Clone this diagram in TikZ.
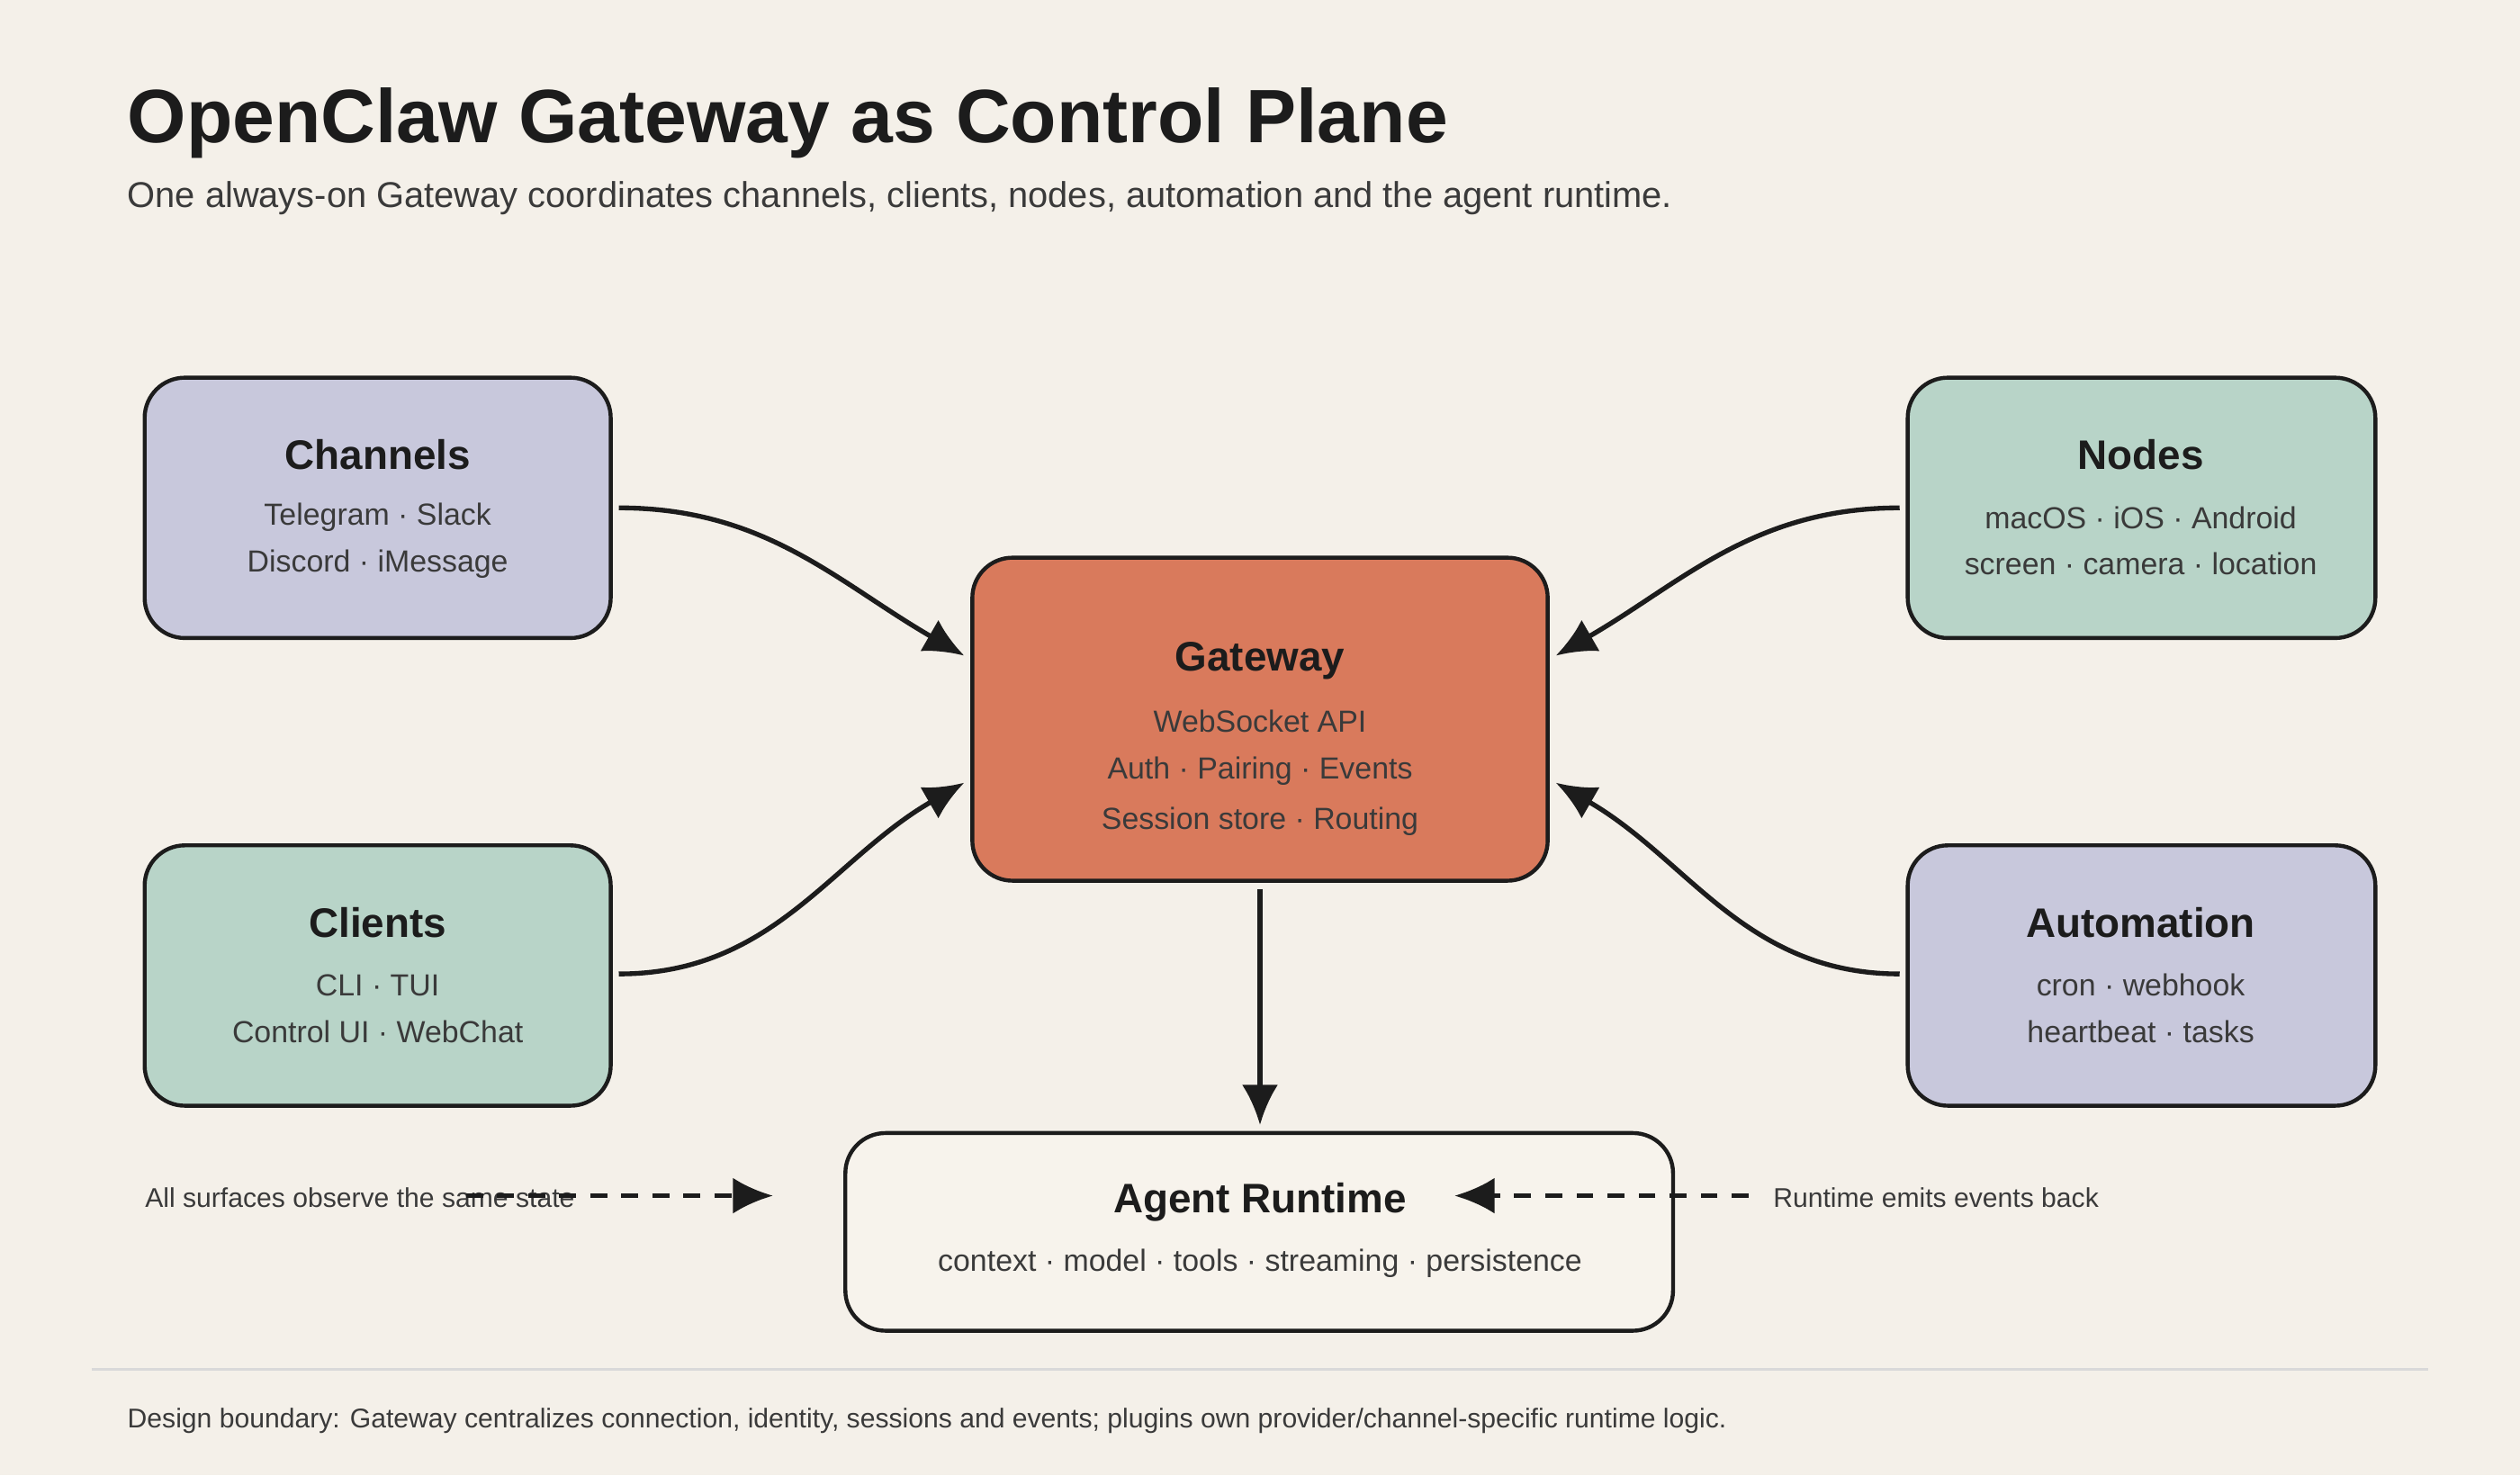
\documentclass[tikz,border=0pt]{standalone}
\usepackage{fontspec}
\setmainfont{Liberation Sans}
\usetikzlibrary{arrows.meta}
\definecolor{bg}{HTML}{F4F0E9}
\definecolor{lav}{HTML}{C8C8DC}
\definecolor{mint}{HTML}{B8D4C8}
\definecolor{coral}{HTML}{D97A5C}
\definecolor{rt}{HTML}{F7F3EC}
\definecolor{ink}{HTML}{1C1C1C}
\definecolor{txt}{HTML}{3A3A3A}
\begin{document}
\begin{tikzpicture}[x=0.02cm,y=-0.02cm,
 box/.style={draw=ink,line width=1.4pt,rounded corners=0.5cm},
 ttl/.style={font=\fontsize{14.6}{16}\selectfont\bfseries,text=ink},
 body/.style={font=\fontsize{10.8}{12}\selectfont,text=txt},
 note/.style={anchor=west,inner sep=0pt,font=\fontsize{9.6}{11}\selectfont,text=txt},
 conn/.style={draw=ink,line width=1.7pt,-{Latex[length=0.5cm,width=0.45cm]}},
 dconn/.style={conn,dash pattern=on 6pt off 5pt}]
\fill[bg] (0,0) rectangle (1568,918);
\node[anchor=base west,inner sep=0pt,font=\fontsize{26.8}{30}\selectfont\bfseries,text=ink] (title) at (79,89) {OpenClaw Gateway as Control Plane};
\node[anchor=base west,inner sep=0pt,font=\fontsize{12.7}{14}\selectfont,text=txt] (sub) at (79,129) {One always-on Gateway coordinates channels, clients, nodes, automation and the agent runtime.};
% boxes
\draw[box,fill=lav] (90,235) rectangle (380,397);
\draw[box,fill=mint] (90,526) rectangle (380,688);
\draw[box,fill=mint] (1187,235) rectangle (1478,397);
\draw[box,fill=lav] (1187,526) rectangle (1478,688);
\draw[box,fill=coral] (605,347) rectangle (963,548);
\draw[box,fill=rt] (526,705) rectangle (1041,828);
% texts
\node[ttl] (chT) at (235,283) {Channels};
\node[body] (ch1) at (235,322) {Telegram · Slack};
\node[body] (ch2) at (235,351) {Discord · iMessage};
\node[ttl] (clT) at (235,574) {Clients};
\node[body] (cl1) at (235,613) {CLI · TUI};
\node[body] (cl2) at (235,642) {Control UI · WebChat};
\node[ttl] (noT) at (1332,283) {Nodes};
\node[body] (no1) at (1332,322) {macOS · iOS · Android};
\node[body] (no2) at (1332,351) {screen · camera · location};
\node[ttl] (auT) at (1332,574) {Automation};
\node[body] (au1) at (1332,613) {cron · webhook};
\node[body] (au2) at (1332,642) {heartbeat · tasks};
\node[ttl] (gwT) at (784,411) {Gateway};
\node[body] (gw1) at (784,449) {WebSocket API};
\node[body] (gw2) at (784,480) {Auth · Pairing · Events};
\node[body] (gw3) at (784,511) {Session store · Routing};
\node[ttl] (rtT) at (784,748) {Agent Runtime};
\node[body] (rt1) at (784,786) {context · model · tools · streaming · persistence};
% connector anchors
\coordinate (chO) at (385,316); \coordinate (gwA) at (600,408);
\coordinate (clO) at (385,606); \coordinate (gwB) at (600,487);
\coordinate (noO) at (1182,316); \coordinate (gwC) at (968,408);
\coordinate (auO) at (1182,606); \coordinate (gwD) at (968,487);
\coordinate (gwS) at (784,553); \coordinate (rtN) at (784,700);
\coordinate (lS) at (290,744); \coordinate (lE) at (481,744);
\coordinate (rS) at (1088,744); \coordinate (rE) at (905,744);
\draw[conn] (chO) to[out=0,in=150] (gwA);
\draw[conn] (clO) to[out=0,in=-150] (gwB);
\draw[conn] (noO) to[out=180,in=30] (gwC);
\draw[conn] (auO) to[out=180,in=-30] (gwD);
\draw[conn] (gwS) -- (rtN);
\node[note] (lt) at (90,745) {All surfaces observe the same state};
\node[note] (rtx) at (1103,745) {Runtime emits events back};
\draw[dconn] (lS) -- (lE);
\draw[dconn] (rS) -- (rE);
\draw[color=black!15,line width=0.8pt] (57,852) -- (1511,852);
\node[note] (foot) at (79,884) {Design boundary: Gateway centralizes connection, identity, sessions and events; plugins own provider/channel-specific runtime logic.};
\end{tikzpicture}
\end{document}
